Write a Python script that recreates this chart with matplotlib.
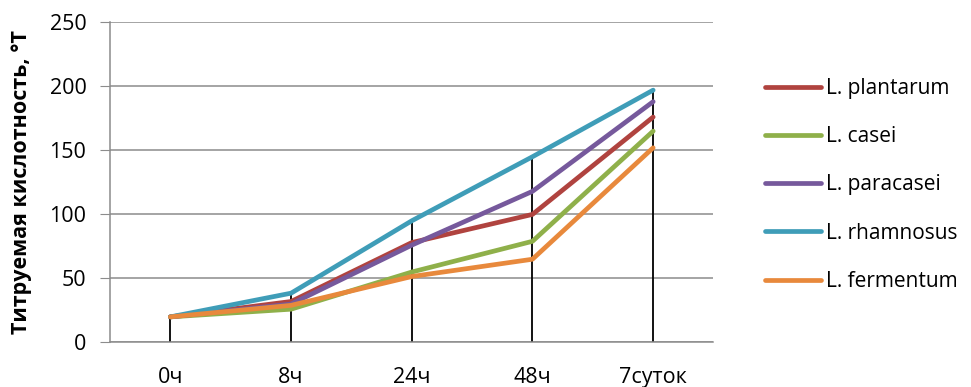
import numpy as np
import matplotlib.pyplot as plt

plt.rcParams['font.family'] = ['Open Sans', 'DejaVu Sans']

# Categories (sampling times) and titratable acidity, °T
times = ["0ч", "8ч", "24ч", "48ч", "7суток"]
plantarum = [20, 32, 78, 100, 176]
casei = [20, 26, 55, 79, 165]
paracasei = [20, 30, 76, 118, 188]
rhamnosus = [20, 38.5, 95, 145, 197]
fermentum = [20, 29, 51.5, 65, 152]

series = [
    ("L. plantarum", plantarum, "#B0433F"),
    ("L. casei", casei, "#8FB04A"),
    ("L. paracasei", paracasei, "#76599C"),
    ("L. rhamnosus", rhamnosus, "#3F9DB8"),
    ("L. fermentum", fermentum, "#E8893C"),
]


def main():
    fig = plt.figure(figsize=(9.71, 3.87), dpi=100)
    ax = fig.add_axes([0.1133, 0.115, 0.6215, 0.8275])
    x = np.arange(len(times))

    # Drop lines from the highest series down to the axis
    top = np.max([s[1] for s in series], axis=0)
    ax.vlines(x, 0, top, colors="black", linewidth=1.3, zorder=2)

    for name, vals, color in series:
        ax.plot(x, vals, color=color, linewidth=3.4, label=name,
                solid_capstyle="round", zorder=3)

    ax.set_xlim(-0.5, len(times) - 0.5)
    ax.set_ylim(0, 250)
    ax.set_yticks(range(0, 251, 50))
    ax.set_xticks(x)
    ax.set_xticklabels(times)
    ax.grid(axis="y", color="#8C8C8C", linewidth=1.1)
    ax.set_axisbelow(True)
    for side in ("top", "right"):
        ax.spines[side].set_visible(False)
    for side in ("left", "bottom"):
        ax.spines[side].set_color("#8C8C8C")
        ax.spines[side].set_linewidth(1.1)
    ax.tick_params(axis="y", length=7, color="#8C8C8C", labelsize=15.5, pad=10)
    ax.tick_params(axis="x", length=0, labelsize=15.5, pad=18)
    ax.set_ylabel("Титруемая кислотность, °Т", fontsize=15.5,
                  fontweight="bold")
    ax.yaxis.set_label_coords(-0.13, 0.5)

    fig.legend(loc="center left", bbox_to_anchor=(0.769, 0.522), frameon=False,
               fontsize=15, handlelength=2.65, handletextpad=0.25,
               labelspacing=1.31)
    fig.savefig("out.png", dpi=100)


if __name__ == '__main__':
    main()
